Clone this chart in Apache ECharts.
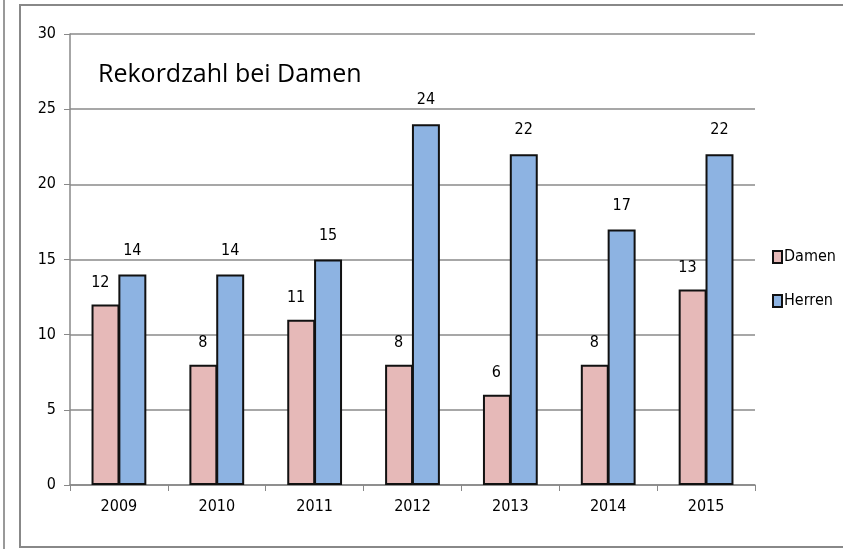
<!DOCTYPE html>
<html>
<head>
<meta charset="utf-8">
<script src="https://cdn.jsdelivr.net/npm/echarts@6/dist/echarts.min.js"></script>
<style>
  html, body { margin: 0; padding: 0; background: #fff; }
  #main { width: 843px; height: 549px; }
</style>
</head>
<body>
<div id="main"></div>
<script>
var years = ['2009', '2010', '2011', '2012', '2013', '2014', '2015'];
var damen = [12, 8, 11, 8, 6, 8, 13];
var herren = [14, 14, 15, 24, 22, 17, 22];

var narrow = '"DejaVu Sans Condensed", "Roboto", sans-serif';

var myChart = echarts.init(document.getElementById('main'));

var option = {
    animation: false,
    graphic: [
        // Rahmen
        { type: 'line', shape: { x1: 4, y1: 0, x2: 4, y2: 549 }, style: { stroke: '#999', lineWidth: 2 } },
        { type: 'rect', shape: { x: 20, y: 5, width: 830, height: 542 }, style: { fill: 'none', stroke: '#888', lineWidth: 2 } },
        { type: 'text', left: 98, top: 62, style: { text: 'Rekordzahl bei Damen', font: '25px "Open Sans", sans-serif', fill: '#000' } }
    ],
    legend: {
        orient: 'vertical',
        left: 772,
        top: 249,
        padding: 0,
        itemGap: 28,
        itemWidth: 9,
        itemHeight: 12,
        icon: 'rect',
        textStyle: { fontFamily: narrow, fontSize: 16, color: '#000', padding: [0, 0, 0, -3] },
        data: ['Damen', 'Herren']
    },
    grid: {
        left: 70,
        right: 88,
        top: 34,
        bottom: 64
    },
    xAxis: {
        type: 'category',
        data: years,
        axisLine: { lineStyle: { color: '#888', width: 1.5 } },
        axisTick: { show: true, length: 6, lineStyle: { color: '#888' } },
        axisLabel: { fontFamily: narrow, fontSize: 16, color: '#000', margin: 14 }
    },
    yAxis: {
        type: 'value',
        min: 0,
        max: 30,
        interval: 5,
        axisLine: { show: true, lineStyle: { color: '#888', width: 1.5 } },
        axisTick: { show: true, length: 6, lineStyle: { color: '#888' } },
        axisLabel: { fontFamily: narrow, fontSize: 16, color: '#000', margin: 14 },
        splitLine: { lineStyle: { color: '#8a8a8a', width: 1.5 } }
    },
    series: [
        {
            name: 'Damen',
            type: 'bar',
            barGap: '-4%',
            barCategoryGap: '44%',
            itemStyle: { color: '#E6B9B8', borderColor: '#111', borderWidth: 2 },
            label: { show: true, position: 'top', distance: 14, align: 'right', offset: [4, 0], fontFamily: narrow, fontSize: 16, color: '#000' },
            data: damen
        },
        {
            name: 'Herren',
            type: 'bar',
            itemStyle: { color: '#8DB3E2', borderColor: '#111', borderWidth: 2 },
            label: { show: true, position: 'top', distance: 16, fontFamily: narrow, fontSize: 16, color: '#000' },
            data: herren
        }
    ]
};

myChart.setOption(option);
</script>
</body>
</html>
